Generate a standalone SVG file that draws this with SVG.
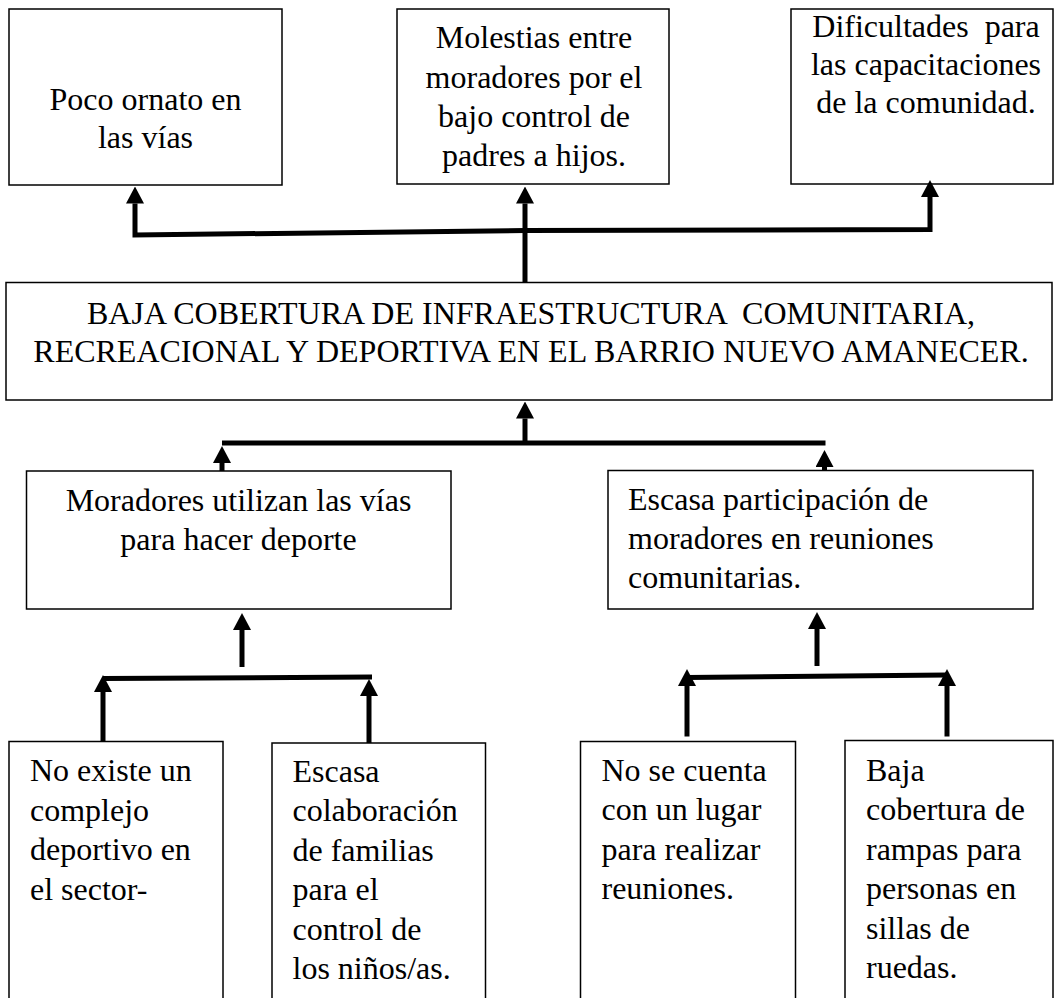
<svg xmlns="http://www.w3.org/2000/svg" width="1056" height="998" viewBox="0 0 1056 998">
<style>
.box{fill:#fff;stroke:#000;stroke-width:1.5}
.t{font-family:'Liberation Serif','Times New Roman',serif;font-size:32px;fill:#000}
.c{text-anchor:middle}
.conn{fill:none;stroke:#000;stroke-width:5}
</style>
<defs>
<marker id="ah" viewBox="0 0 17 18" refX="0" refY="9" markerWidth="17" markerHeight="18" markerUnits="userSpaceOnUse" orient="auto-start-reverse">
<path d="M0,0 L17,9 L0,18 z" fill="#000"/>
</marker>
</defs>
<rect width="1056" height="998" fill="#fff"/>

<g id="efecto1">
<rect class="box" x="9" y="9" width="273" height="176"/>
<text class="t c" x="145.5" y="110">Poco ornato en</text>
<text class="t c" x="145.5" y="148">las vías</text>
</g>
<g id="efecto2">
<rect class="box" x="397" y="9" width="272" height="175"/>
<text class="t c" x="534" y="48">Molestias entre</text>
<text class="t c" x="534" y="87.5">moradores por el</text>
<text class="t c" x="534" y="127">bajo control de</text>
<text class="t c" x="534" y="166">padres a hijos.</text>
</g>
<g id="efecto3">
<rect class="box" x="791" y="9" width="262" height="175"/>
<text class="t c" x="926" y="37" xml:space="preserve">Dificultades  para</text>
<text class="t c" x="926" y="75">las capacitaciones</text>
<text class="t c" x="926" y="113">de la comunidad.</text>
</g>
<g id="problema">
<rect class="box" x="6" y="282.5" width="1046" height="117.5"/>
<text class="t c" x="531" y="323.5" xml:space="preserve">BAJA COBERTURA DE INFRAESTRUCTURA  COMUNITARIA,</text>
<text class="t c" x="531" y="362">RECREACIONAL Y DEPORTIVA EN EL BARRIO NUEVO AMANECER.</text>
</g>
<g id="causa1">
<rect class="box" x="26.5" y="471" width="424.5" height="138"/>
<text class="t c" x="238.5" y="511">Moradores utilizan las vías</text>
<text class="t c" x="238.5" y="549.5">para hacer deporte</text>
</g>
<g id="causa2">
<rect class="box" x="608" y="470.5" width="425" height="138.5"/>
<text class="t" x="628" y="510">Escasa participación de</text>
<text class="t" x="628" y="549">moradores en reuniones</text>
<text class="t" x="628" y="588">comunitarias.</text>
</g>
<g id="subcausa1">
<rect class="box" x="9" y="741.5" width="214" height="270"/>
<text class="t" x="30" y="781">No existe un</text>
<text class="t" x="30" y="820.5">complejo</text>
<text class="t" x="30" y="860">deportivo en</text>
<text class="t" x="30" y="899.5">el sector-</text>
</g>
<g id="subcausa2">
<rect class="box" x="272" y="743" width="213.5" height="270"/>
<text class="t" x="292.5" y="782">Escasa</text>
<text class="t" x="292.5" y="821">colaboración</text>
<text class="t" x="292.5" y="860.5">de familias</text>
<text class="t" x="292.5" y="900">para el</text>
<text class="t" x="292.5" y="939.5">control de</text>
<text class="t" x="292.5" y="979">los niños/as.</text>
</g>
<g id="subcausa3">
<rect class="box" x="580.5" y="741.5" width="215" height="270"/>
<text class="t" x="601.5" y="780.5">No se cuenta</text>
<text class="t" x="601.5" y="820">con un lugar</text>
<text class="t" x="601.5" y="859.5">para realizar</text>
<text class="t" x="601.5" y="899">reuniones.</text>
</g>
<g id="subcausa4">
<rect class="box" x="845" y="740.5" width="208" height="270"/>
<text class="t" x="866" y="780.5">Baja</text>
<text class="t" x="866" y="820">cobertura de</text>
<text class="t" x="866" y="859.5">rampas para</text>
<text class="t" x="866" y="899">personas en</text>
<text class="t" x="866" y="938.5">sillas de</text>
<text class="t" x="866" y="978">ruedas.</text>
</g>

<g id="connectors">
<path class="conn" d="M135,203.5 L135,235 L525,230.5 L930,229.5 L930,197" marker-start="url(#ah)" marker-end="url(#ah)"/>
<path class="conn" d="M525,282.5 L525,203.5" marker-end="url(#ah)"/>
<path class="conn" d="M525,445 L525,418.5" marker-end="url(#ah)"/>
<path class="conn" d="M222,443 L825.5,443"/>
<path class="conn" d="M222,471 L222,463" marker-end="url(#ah)"/>
<path class="conn" d="M824.5,470.5 L824.5,467" marker-end="url(#ah)"/>
<path class="conn" d="M242,667 L242,630" marker-end="url(#ah)"/>
<path class="conn" d="M103,678.5 L372,677"/>
<path class="conn" d="M103,741.5 L103,692" marker-end="url(#ah)"/>
<path class="conn" d="M369,743 L369,696" marker-end="url(#ah)"/>
<path class="conn" d="M817,666 L817,629" marker-end="url(#ah)"/>
<path class="conn" d="M687,677.5 L947,675"/>
<path class="conn" d="M687,736.5 L687,686" marker-end="url(#ah)"/>
<path class="conn" d="M947,736.5 L947,686" marker-end="url(#ah)"/>
</g>
</svg>
